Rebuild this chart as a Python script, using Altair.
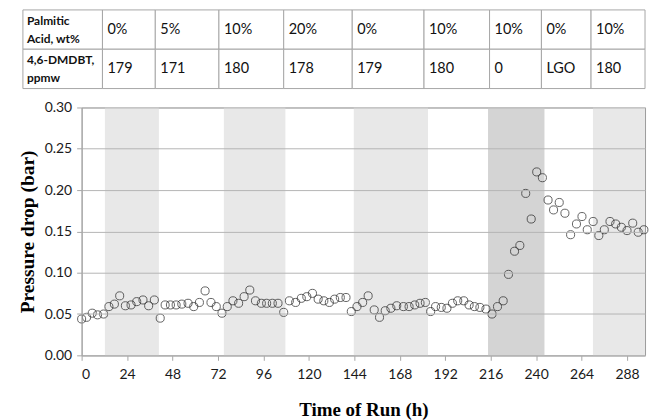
import altair as alt
import pandas as pd

# Pressure-drop log: time on stream (h) and measured drop across the bed (bar)
run_hours = [
    0.0, 2.6, 5.6, 8.4, 11.6, 14.4, 17.3, 20.1, 23.1, 26.1,
    29.1, 32.4, 35.4, 38.4, 41.5, 44.1, 46.9, 49.9, 52.9, 56.2,
    59.2, 62.2, 65.2, 68.3, 71.1, 74.1, 76.9, 79.9, 82.9, 85.8,
    88.8, 91.8, 94.9, 97.7, 100.7, 103.7, 106.7, 109.7, 113.0, 116.0,
    118.9, 121.9, 124.9, 127.9, 130.8, 133.6, 136.6, 139.6, 142.4, 145.4,
    148.4, 151.3, 154.5, 157.3, 160.3, 163.3, 166.4, 169.9, 172.9, 175.9,
    178.7, 181.5, 184.3, 186.9, 189.9, 192.9, 195.8, 198.6, 201.8, 204.6,
    207.4, 210.3, 213.5, 216.7, 219.6, 222.6, 225.4, 228.6, 231.4, 234.5,
    237.4, 240.3, 243.3, 246.3, 249.2, 252.2, 255.2, 258.2, 261.3, 264.2,
    267.0, 270.1, 273.1, 276.0, 279.0, 282.0, 285.0, 288.0, 291.0, 293.9,
    296.9,
]
pressure_drop = [
    0.044, 0.046, 0.051, 0.049, 0.050, 0.059, 0.062, 0.072, 0.060, 0.061,
    0.065, 0.067, 0.060, 0.067, 0.045, 0.061, 0.061, 0.061, 0.062, 0.063,
    0.059, 0.064, 0.078, 0.064, 0.059, 0.051, 0.059, 0.066, 0.063, 0.071,
    0.079, 0.066, 0.063, 0.063, 0.063, 0.063, 0.052, 0.066, 0.064, 0.069,
    0.071, 0.075, 0.068, 0.066, 0.064, 0.068, 0.070, 0.070, 0.053, 0.059,
    0.064, 0.072, 0.055, 0.046, 0.054, 0.057, 0.060, 0.059, 0.059, 0.061,
    0.063, 0.064, 0.053, 0.059, 0.058, 0.057, 0.063, 0.066, 0.066, 0.061,
    0.059, 0.058, 0.056, 0.050, 0.059, 0.066, 0.098, 0.126, 0.133, 0.196,
    0.165, 0.222, 0.215, 0.188, 0.176, 0.185, 0.172, 0.146, 0.159, 0.168,
    0.152, 0.162, 0.145, 0.152, 0.162, 0.159, 0.155, 0.151, 0.160, 0.149,
    0.152,
]

# Shaded feed periods along the run (h)
band_start = [12.3, 75.1, 143.7, 214.6, 270.0]
band_end = [40.8, 107.6, 182.9, 244.4, 297.5]
band_tone = ["light", "light", "light", "dark", "light"]

# Feed table: column edges in run hours, one column per feed period
feed_edges = [-31.0, 11.0, 38.9, 72.5, 106.7, 142.9, 180.8, 215.4, 242.8, 269.0, 297.5]
row_labels = [["Palmitic", "Acid, wt%"], ["4,6-DMDBT,", "ppmw"]]
palmitic_acid = ["0%", "5%", "10%", "20%", "0%", "10%", "10%", "0%", "10%"]
dmdbt_ppmw = ["179", "171", "180", "178", "179", "180", "0", "LGO", "180"]

x_ticks = [0, 24, 48, 72, 96, 120, 144, 168, 192, 216, 240, 264, 288]
y_ticks = [0.0, 0.05, 0.10, 0.15, 0.20, 0.25, 0.30]

X_MAX = 297.5
PLOT_W = 566
PLOT_H = 249
TABLE_H = 79

x_scale = alt.Scale(domain=[0, X_MAX], nice=False, zero=False)
y_scale = alt.Scale(domain=[0, 0.30], nice=False, zero=True)

# ---------- feed table ----------
cells = []
heads = []
for r, (label, values) in enumerate(zip(row_labels, [palmitic_acid, dmdbt_ppmw])):
    cells.append(dict(x0=feed_edges[0], x1=feed_edges[1], r0=r, r1=r + 1,
                      rc=r + 0.5, text=""))
    for k, line in enumerate(label):
        heads.append(dict(x0=feed_edges[0], rc=r + 0.27 + 0.46 * k, text=line))
    for i, v in enumerate(values):
        cells.append(dict(x0=feed_edges[i + 1], x1=feed_edges[i + 2], r0=r,
                          r1=r + 1, rc=r + 0.5, text=v))
cells_df = pd.DataFrame(cells)
heads_df = pd.DataFrame(heads)

row_scale = alt.Scale(domain=[0, 2], reverse=True, nice=False, zero=False)

table_cells = alt.Chart(cells_df).mark_rect(
    fill="white", stroke="#a6a6a6", strokeWidth=1, clip=False
).encode(
    x=alt.X("x0:Q", scale=x_scale, axis=None),
    x2="x1:Q",
    y=alt.Y("r0:Q", scale=row_scale, axis=None),
    y2="r1:Q",
)
table_heads = alt.Chart(heads_df).mark_text(
    align="left", baseline="middle", dx=4, font="Lato", fontSize=12,
    fontWeight="bold", color="#111111", clip=False,
).encode(
    x=alt.X("x0:Q", scale=x_scale, axis=None),
    y=alt.Y("rc:Q", scale=row_scale, axis=None),
    text="text:N",
)
table_values = alt.Chart(cells_df).transform_filter("datum.text != ''").mark_text(
    align="left", baseline="middle", dx=5, font="Lato", fontSize=14.5,
    color="#111111", clip=False,
).encode(
    x=alt.X("x0:Q", scale=x_scale, axis=None),
    y=alt.Y("rc:Q", scale=row_scale, axis=None),
    text="text:N",
)
table = alt.layer(table_cells, table_heads, table_values).properties(
    width=PLOT_W, height=TABLE_H, view=alt.ViewBackground(stroke=None)
)

# ---------- pressure-drop scatter ----------
x_axis = alt.Axis(
    values=x_ticks, grid=False, domainColor="#a6a6a6", tickColor="#a6a6a6",
    tickSize=5, labelFont="Lato", labelFontSize=14, labelColor="#1a1a1a",
    labelPadding=7, title="Time of Run (h)", titleFont="Liberation Serif",
    titleFontSize=19, titleFontWeight="bold", titleColor="#000000",
    titlePadding=19,
)
y_axis = alt.Axis(
    values=y_ticks, format=".2f", grid=True, gridColor="#b4b4b4",
    domainColor="#a6a6a6", tickColor="#a6a6a6", tickSize=5,
    labelFont="Lato", labelFontSize=14, labelColor="#1a1a1a", labelPadding=5,
    title="Pressure drop  (bar)", titleFont="Liberation Serif",
    titleFontSize=19.5, titleFontWeight="bold", titleColor="#000000",
    titlePadding=7, zindex=1,
)

band_df = pd.DataFrame({"start": band_start, "end": band_end, "tone": band_tone,
                        "lo": 0.0, "hi": 0.30})
bands = alt.Chart(band_df).mark_rect().encode(
    x=alt.X("start:Q", scale=x_scale, axis=x_axis),
    x2="end:Q",
    y=alt.Y("lo:Q", scale=y_scale, axis=y_axis),
    y2="hi:Q",
    color=alt.Color("tone:N", scale=alt.Scale(domain=["light", "dark"],
                                              range=["#e8e8e8", "#d4d4d4"]),
                    legend=None),
)

pts_df = pd.DataFrame({"hours": run_hours, "dp": pressure_drop})
points = alt.Chart(pts_df).mark_point(
    shape="circle", filled=False, size=66, color="#222222", strokeWidth=1,
).encode(
    x=alt.X("hours:Q", scale=x_scale, axis=x_axis),
    y=alt.Y("dp:Q", scale=y_scale, axis=y_axis),
)

scatter = alt.layer(bands, points).properties(width=PLOT_W, height=PLOT_H)

chart = alt.vconcat(table, scatter, spacing=19, bounds="flush").properties(
    padding={"left": 16, "top": 8, "right": 0, "bottom": 0}
).configure_view(stroke="#9a9a9a", strokeWidth=1)

chart.save("out.html", embed_options={"renderer": "svg", "actions": False})
